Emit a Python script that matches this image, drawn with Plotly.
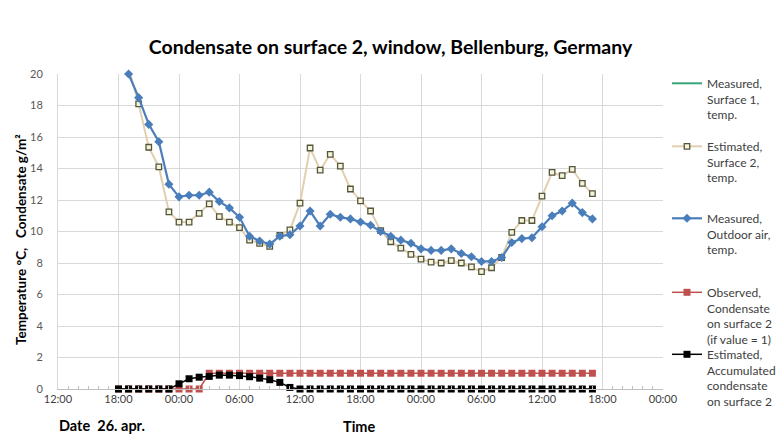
import pandas as pd
import plotly.graph_objects as go

# ---- data (hourly readings) ----
temp_start = "2013-04-25 19:00"
cond_start = "2013-04-25 18:00"

# no visible readings for surface 1 in the chart
surface1_measured = [None, None]

surface2_estimated = [20.4, 18.1, 15.35, 14.1, 11.25,
                      10.6, 10.6, 11.15, 11.75, 10.95, 10.6, 10.25, 9.45, 9.25, 9.05, 9.75, 10.1,
                      11.8, 15.3, 13.9, 14.9, 14.15, 12.7, 11.95, 11.3, 10.05, 9.35, 8.95, 8.55,
                      8.25, 8.05, 8.0, 8.15, 8.0, 7.75, 7.45, 7.7, 8.35, 9.95, 10.7, 10.7,
                      12.25, 13.75, 13.55, 13.95, 13.05, 12.4]

outdoor_measured = [20.0, 18.5, 16.8, 15.7, 13.0,
                    12.2, 12.3, 12.3, 12.5, 11.9, 11.5, 10.9, 9.7, 9.4, 9.2, 9.7, 9.8,
                    10.35, 11.3, 10.35, 11.1, 10.9, 10.8, 10.6, 10.4, 10.0, 9.7, 9.45, 9.25,
                    8.9, 8.8, 8.8, 8.9, 8.6, 8.4, 8.1, 8.1, 8.35, 9.3, 9.55, 9.6,
                    10.3, 11.0, 11.3, 11.8, 11.2, 10.8]

condensate_observed = [0] * 9 + [1] * 39

condensate_estimated = [0, 0, 0, 0, 0, 0,
                        0.33, 0.65, 0.75, 0.8, 0.88, 0.88, 0.85, 0.78, 0.69, 0.59, 0.42, 0.1] + [0] * 30

y_ticks = [0, 2, 4, 6, 8, 10, 12, 14, 16, 18, 20]
x_range = ["2013-04-25 12:00", "2013-04-28 00:00"]

names = ["Measured,<br>Surface 1,<br>temp.",
         "Estimated,<br>Surface 2,<br>temp.",
         "Measured,<br>Outdoor air,<br>temp.",
         "Observed,<br>Condensate<br>on surface 2<br>(if value = 1)",
         "Estimated,<br>Accumulated<br>condensate<br>on surface 2"]


def hours(start, n):
    return pd.date_range(start, periods=n, freq="h")


FONT = "Lato"
fig = go.Figure()

fig.add_trace(go.Scatter(
    x=hours(temp_start, len(surface1_measured)), y=surface1_measured,
    name=names[0], mode="lines", line=dict(color="#3aa57a", width=2), legend="legend"))

fig.add_trace(go.Scatter(
    x=hours(temp_start, len(surface2_estimated)), y=surface2_estimated,
    name=names[1], mode="lines+markers",
    line=dict(color="#e2cfb0", width=2),
    marker=dict(symbol="square", size=5.5, color="#f4f4dc",
                line=dict(color="#55553a", width=1.3)),
    legend="legend2"))

fig.add_trace(go.Scatter(
    x=hours(temp_start, len(outdoor_measured)), y=outdoor_measured,
    name=names[2], mode="lines+markers", cliponaxis=False,
    line=dict(color="#4a7ebb", width=2.2),
    marker=dict(symbol="diamond", size=7, color="#4a7ebb"),
    legend="legend3"))

fig.add_trace(go.Scatter(
    x=hours(cond_start, len(condensate_observed)), y=condensate_observed,
    name=names[3], mode="lines+markers", cliponaxis=False,
    line=dict(color="#c0504d", width=1.5),
    marker=dict(symbol="square", size=7, color="#c0504d"),
    legend="legend4"))

fig.add_trace(go.Scatter(
    x=hours(cond_start, len(condensate_estimated)), y=condensate_estimated,
    name=names[4], mode="lines+markers", cliponaxis=False,
    line=dict(color="#000000", width=1.5),
    marker=dict(symbol="square", size=7, color="#000000"),
    legend="legend5"))

L, R, T, B = 58, 118, 74, 45
W, H = 781, 434
PW, PH = W - L - R, H - T - B


def px_x(px):
    return (px - L) / PW


def px_y(py):
    return (H - B - py) / PH


leg_common = dict(font=dict(family=FONT, size=12, color="#404040"),
                  bgcolor="rgba(0,0,0,0)", valign="top",
                  xanchor="left", yanchor="top", tracegroupgap=0,
                  itemwidth=30)
legend_tops = [69, 132, 204, 278, 340]
layout_legends = {}
for i, top in enumerate(legend_tops):
    key = "legend" if i == 0 else f"legend{i+1}"
    layout_legends[key] = dict(leg_common, x=px_x(667), y=px_y(top))

fig.update_layout(
    width=W, height=H,
    margin=dict(l=L, r=R, t=T, b=B, autoexpand=False),
    paper_bgcolor="white", plot_bgcolor="white",
    font=dict(family=FONT, size=11, color="#404040"),
    title=dict(text="<b>Condensate on surface 2, window, Bellenburg, Germany</b>",
               x=0.5, xanchor="center", y=1 - 47 / H, yanchor="middle",
               font=dict(family=FONT, size=19.5, color="#000000")),
    showlegend=True,
    **layout_legends,
)

fig.update_xaxes(
    type="date", range=x_range, dtick=6 * 3600 * 1000, tick0="2013-04-25 12:00",
    tickformat="%H:%M", showgrid=True, gridcolor="#d9d9d9", gridwidth=1,
    showline=True, linecolor="#bfbfbf", ticks="",
    tickfont=dict(family=FONT, size=11, color="#404040"),
    minor=dict(dtick=3600 * 1000, ticks="inside", ticklen=3, tickcolor="#bfbfbf", showgrid=False),
    zeroline=False,
)
fig.update_yaxes(
    range=[0, 20], tickvals=y_ticks, showgrid=True, gridcolor="#d9d9d9", gridwidth=1,
    showline=True, linecolor="#d9d9d9", ticks="", ticklabelstandoff=12,
    tickfont=dict(family=FONT, size=11, color="#595959"), zeroline=False,
)

fig.add_annotation(text="<b>Temperature °C,   Condensate g/m²</b>", textangle=-90,
                   xref="paper", yref="paper", x=px_x(21), y=px_y(240),
                   xanchor="center", yanchor="middle",
                   showarrow=False, font=dict(family=FONT, size=13.5, color="#000000"))
fig.add_annotation(text="<b>Date  26. apr.</b>", xref="paper", yref="paper",
                   x=px_x(57), y=px_y(425), xanchor="left", yanchor="middle",
                   showarrow=False, font=dict(family=FONT, size=14.5, color="#000000"))
fig.add_annotation(text="<b>Time</b>", xref="paper", yref="paper",
                   x=px_x(359), y=px_y(426), xanchor="center", yanchor="middle",
                   showarrow=False, font=dict(family=FONT, size=14.5, color="#000000"))

fig.write_html("out.html", config={"displayModeBar": False},
               post_script="document.body.style.margin='0px';")
